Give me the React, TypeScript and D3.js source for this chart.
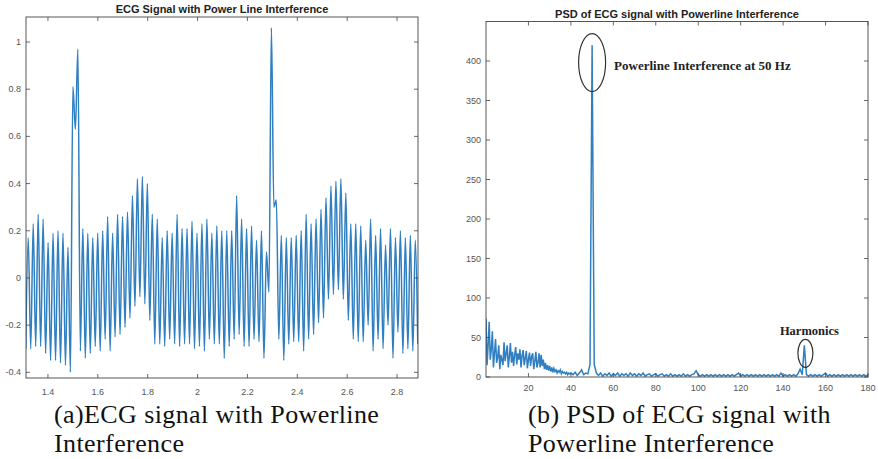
import React, { useEffect, useRef } from 'react';
import * as d3 from 'd3';

// ---- panel (a): ECG with 50 Hz hum ----
const ecgXTicks = [1.4, 1.6, 1.8, 2, 2.2, 2.4, 2.6, 2.8];
const ecgYTicks = [-0.4, -0.2, 0, 0.2, 0.4, 0.6, 0.8, 1];
const ecgStart = 1.321; // time of first hum peak (s)
const ecgPeriod = 0.0199; // one peak + one trough per hum cycle
const ecgLead = -0.3; // trough before first peak
const ecgPeaks = [
  0.17, 0.23, 0.27, 0.25, 0.15, 0.19, 0.2, 0.19, 0.13, 0.81,
  0.97, 0.21, 0.19, 0.17, 0.19, 0.2, 0.26, 0.19, 0.27, 0.26,
  0.28, 0.35, 0.42, 0.43, 0.4, 0.27, 0.25, 0.17, 0.2, 0.19,
  0.27, 0.21, 0.21, 0.24, 0.19, 0.23, 0.25, 0.19, 0.22, 0.2,
  0.2, 0.2, 0.35, 0.25, 0.21, 0.22, 0.16, 0.2, 0.11, 1.06,
  0.33, 0.18, 0.17, 0.17, 0.18, 0.2, 0.27, 0.23, 0.25, 0.29,
  0.34, 0.39, 0.41, 0.42, 0.36, 0.23, 0.23, 0.22, 0.16, 0.25,
  0.18, 0.21, 0.14, 0.21, 0.17, 0.2, 0.17, 0.18, 0.16,
];
const ecgTroughs = [
  -0.3, -0.29, -0.29, -0.32, -0.35, -0.35, -0.36, -0.37, -0.4, 0.63,
  -0.31, -0.34, -0.32, -0.29, -0.31, -0.26, -0.31, -0.25, -0.24, -0.21,
  -0.17, -0.12, -0.08, -0.11, -0.18, -0.28, -0.28, -0.29, -0.26, -0.28,
  -0.29, -0.28, -0.28, -0.3, -0.29, -0.31, -0.26, -0.28, -0.28, -0.34,
  -0.29, -0.26, -0.24, -0.29, -0.29, -0.26, -0.27, -0.34, -0.06, 0.3,
  -0.26, -0.35, -0.28, -0.27, -0.27, -0.31, -0.26, -0.24, -0.19, -0.17,
  -0.09, -0.07, -0.05, -0.09, -0.18, -0.26, -0.27, -0.27, -0.2, -0.31,
  -0.26, -0.3, -0.2, -0.34, -0.23, -0.32, -0.3, -0.31, -0.28,
];

// ---- panel (b): PSD ----
const psdXTicks = [20, 40, 60, 80, 100, 120, 140, 160, 180];
const psdYTicks = [0, 50, 100, 150, 200, 250, 300, 350, 400];
// 0 - 39.5 Hz in 0.5 Hz bins
const psdLow = [
  74, 15, 40, 70, 22, 35, 58, 12, 30, 48,
  18, 25, 40, 10, 28, 22, 15, 44, 20, 30,
  40, 12, 26, 43, 18, 32, 14, 28, 38, 16,
  30, 22, 35, 12, 27, 34, 15, 24, 33, 11,
  22, 31, 14, 26, 30, 10, 20, 32, 12, 18,
  30, 12, 28, 14, 22, 10, 18, 9, 15, 8,
  14, 7, 12, 6, 11, 7, 9, 5, 8, 6,
  9, 4, 7, 5, 6, 4, 6, 3, 5, 4,
];
// 40 - 180 Hz in 1 Hz bins
const psdHigh = [
  5, 3, 6, 2, 5, 9, 3, 5, 4, 16,
  420, 16, 5, 2, 5, 1, 4, 2, 5, 1,
  4, 2, 5, 1, 4, 2, 4, 1, 5, 2,
  4, 1, 4, 2, 5, 1, 3, 4, 1, 3,
  4, 1, 3, 4, 1, 3, 1, 4, 1, 3,
  1, 3, 1, 4, 1, 3, 1, 3, 4, 8,
  3, 1, 3, 1, 3, 1, 3, 1, 3, 1,
  3, 1, 3, 1, 3, 1, 3, 1, 3, 5,
  1, 3, 1, 3, 1, 3, 1, 3, 1, 3,
  1, 3, 1, 3, 1, 3, 1, 3, 1, 5,
  1, 3, 1, 3, 1, 3, 1, 4, 10, 3,
  40, 3, 1, 3, 1, 3, 1, 3, 1, 3,
  5, 1, 3, 1, 3, 1, 3, 1, 3, 1,
  3, 1, 3, 1, 3, 1, 3, 1, 3, 1,
  3,
];
const psdNotes = [
  { label: 'Powerline Interference at 50 Hz', f: 50, v: 398 },
  { label: 'Harmonics', f: 150.5, v: 30 },
];

const blue = '#2f7fc1';
const axisColor = '#444';
const tickFont = '"Liberation Sans", Arial, sans-serif';

// box with inward ticks on all four sides, MATLAB style
function drawAxes(g, x, y, xTicks, yTicks, xLabelY) {
  const [x0, x1] = x.range();
  const [y0, y1] = y.range();
  const tl = 4;

  xTicks.forEach((t) => {
    g.append('line').attr('x1', x(t)).attr('x2', x(t)).attr('y1', y0).attr('y2', y0 - tl)
      .attr('stroke', axisColor).attr('stroke-width', 0.8);
    g.append('line').attr('x1', x(t)).attr('x2', x(t)).attr('y1', y1).attr('y2', y1 + tl)
      .attr('stroke', axisColor).attr('stroke-width', 0.8);
    g.append('text').attr('x', x(t)).attr('y', xLabelY).attr('text-anchor', 'middle')
      .attr('font-family', tickFont).attr('font-size', 9).attr('fill', '#555')
      .text(String(t));
  });
  yTicks.forEach((t) => {
    g.append('line').attr('x1', x0).attr('x2', x0 + tl).attr('y1', y(t)).attr('y2', y(t))
      .attr('stroke', axisColor).attr('stroke-width', 0.8);
    g.append('line').attr('x1', x1).attr('x2', x1 - tl).attr('y1', y(t)).attr('y2', y(t))
      .attr('stroke', axisColor).attr('stroke-width', 0.8);
    g.append('text').attr('x', x0 - 5).attr('y', y(t) + 3).attr('text-anchor', 'end')
      .attr('font-family', tickFont).attr('font-size', 9).attr('fill', '#555')
      .text(String(t));
  });

  g.append('rect').attr('x', x0).attr('y', y1).attr('width', x1 - x0).attr('height', y0 - y1)
    .attr('fill', 'none').attr('stroke', axisColor).attr('stroke-width', 0.9);
}

function caption(svg, x, y, lines) {
  const t = svg.append('text').attr('x', x).attr('y', y)
    .attr('font-family', '"Liberation Serif", "Times New Roman", serif')
    .attr('font-size', 26).attr('letter-spacing', 0.4).attr('fill', '#111');
  lines.forEach((l, i) => {
    t.append('tspan').attr('x', x).attr('dy', i === 0 ? 0 : 29).text(l);
  });
}

const App = () => {
  const ref = useRef(null);

  useEffect(() => {
    const svg = d3.select(ref.current);
    svg.selectAll('*').remove();

    // ---------- (a) ----------
    const xa = d3.scaleLinear().domain([1.312, 2.884]).range([26, 418]);
    const ya = d3.scaleLinear().domain([-0.424, 1.106]).range([378, 17]);

    const pts = [[ecgStart - ecgPeriod / 2, ecgLead]];
    ecgPeaks.forEach((p, i) => {
      pts.push([ecgStart + i * ecgPeriod, p]);
      pts.push([ecgStart + (i + 0.5) * ecgPeriod, ecgTroughs[i]]);
    });

    svg.append('clipPath').attr('id', 'clipA').append('rect')
      .attr('x', 26).attr('y', 17).attr('width', 392).attr('height', 361);

    const ecgLine = d3.line()
      .x((d) => xa(d[0]))
      .y((d) => ya(d[1]))
      .curve(d3.curveMonotoneX);

    svg.append('path').datum(pts).attr('d', ecgLine)
      .attr('clip-path', 'url(#clipA)')
      .attr('fill', 'none').attr('stroke', blue).attr('stroke-width', 1.5);

    drawAxes(svg.append('g'), xa, ya, ecgXTicks, ecgYTicks, 395);

    svg.append('text').attr('x', 222).attr('y', 12.5).attr('text-anchor', 'middle')
      .attr('font-family', tickFont).attr('font-weight', 'bold').attr('font-size', 11)
      .attr('fill', '#222').text('ECG Signal with Power Line Interference');

    // ---------- (b) ----------
    const xb = d3.scaleLinear().domain([0, 180]).range([486, 868]);
    const yb = d3.scaleLinear().domain([0, 450]).range([377, 21.5]);

    const psd = [
      ...psdLow.map((v, i) => [i * 0.5, v]),
      ...psdHigh.map((v, i) => [40 + i, v]),
    ];

    svg.append('clipPath').attr('id', 'clipB').append('rect')
      .attr('x', 486).attr('y', 21.5).attr('width', 382).attr('height', 355.5);

    const psdLine = d3.line()
      .x((d) => xb(d[0]))
      .y((d) => yb(d[1]));

    svg.append('path').datum(psd).attr('d', psdLine)
      .attr('clip-path', 'url(#clipB)')
      .attr('fill', 'none').attr('stroke', blue).attr('stroke-width', 1.5);

    drawAxes(svg.append('g'), xb, yb, psdXTicks, psdYTicks, 390.5);

    svg.append('text').attr('x', 677).attr('y', 18).attr('text-anchor', 'middle')
      .attr('font-family', tickFont).attr('font-weight', 'bold').attr('font-size', 11)
      .attr('fill', '#222').text('PSD of ECG signal with Powerline Interference');

    // annotations
    const big = psdNotes[0];
    svg.append('ellipse').attr('cx', xb(big.f)).attr('cy', yb(big.v))
      .attr('rx', 13.5).attr('ry', 29)
      .attr('fill', 'none').attr('stroke', '#333').attr('stroke-width', 1.2);
    svg.append('text').attr('x', xb(big.f) + 22).attr('y', yb(big.v) + 7)
      .attr('font-family', '"Liberation Serif", "Times New Roman", serif')
      .attr('font-weight', 'bold').attr('font-size', 13).attr('fill', '#222')
      .text(big.label);

    const harm = psdNotes[1];
    svg.append('ellipse').attr('cx', xb(harm.f)).attr('cy', yb(harm.v))
      .attr('rx', 7.5).attr('ry', 14)
      .attr('fill', 'none').attr('stroke', '#333').attr('stroke-width', 1.2);
    svg.append('text').attr('x', xb(harm.f) + 4).attr('y', yb(harm.v) - 18)
      .attr('text-anchor', 'middle')
      .attr('font-family', '"Liberation Serif", "Times New Roman", serif')
      .attr('font-weight', 'bold').attr('font-size', 12.5).attr('fill', '#222')
      .text(harm.label);

    // figure captions
    caption(svg, 54, 423, ['(a)ECG signal with Powerline', 'Interference']);
    caption(svg, 528, 423, ['(b) PSD of ECG signal with', 'Powerline Interference']);
  }, []);

  return (
    <svg
      ref={ref}
      width={878}
      height={459}
      style={{ position: 'absolute', left: 0, top: 0, background: '#fff' }}
    />
  );
};

export default App;
